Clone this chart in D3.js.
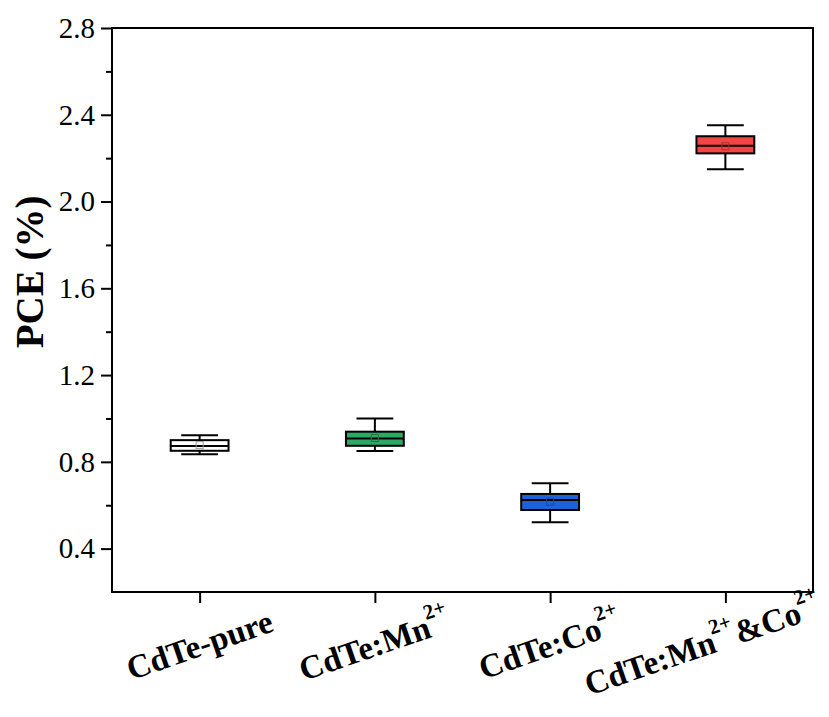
<!DOCTYPE html>
<head>
    <meta charset="utf-8">
    <style>
        body { margin: 0; background: #fff; }
        text { font-family: "Liberation Serif", "Times New Roman", serif; }
    </style>
    <script src="https://d3js.org/d3.v7.min.js"></script>
</head>
<body>
    <div id="block"></div>
    <script>

        // samples
        var categories = ["CdTe-pure", "CdTe:Mn", "CdTe:Co", "CdTe:Mn&Co"];
        var whisker_low  = [0.835, 0.850, 0.521, 2.149];
        var box_low      = [0.851, 0.874, 0.578, 2.222];
        var medians      = [0.873, 0.908, 0.624, 2.257];
        var box_high     = [0.900, 0.939, 0.652, 2.301];
        var whisker_high = [0.923, 1.000, 0.701, 2.352];
        var means        = [0.877, 0.910, 0.616, 2.255];
        var fills        = ["#ffffff", "#2fa866", "#1c62d9", "#f24545"];
        var mean_strokes = ["#999999", "#1d7a47", "#1a4aa8", "#b03030"];
        var y_ticks = [0.4, 0.8, 1.2, 1.6, 2.0, 2.4, 2.8];
        var y_minor = [0.6, 1.0, 1.4, 1.8, 2.2, 2.6];

        var w = 829,
            h = 717;
        var margin = {left: 112, right: 16, top: 28, bottom: 125};

        var svg = d3.select("#block")
                    .append("svg")
                    .attr("width", w)
                    .attr("height", h);

        var x = d3.scaleLinear()
                  .domain([0.5, 4.5])
                  .range([margin.left, w - margin.right]);

        var y = d3.scaleLinear()
                  .domain([0.2, 2.8])
                  .range([h - margin.bottom, margin.top]);

        var data = categories.map(function(c, i) {
            return {
                name: c, pos: i + 1,
                wl: whisker_low[i], q1: box_low[i], med: medians[i],
                q3: box_high[i], wh: whisker_high[i], mean: means[i],
                fill: fills[i], ms: mean_strokes[i]
            };
        });

        // y axis, major + minor ticks
        var yAxis = svg.append("g")
           .attr("transform", "translate(" + margin.left + ",0)")
           .call(d3.axisLeft(y).tickValues(y_ticks).tickSize(11).tickPadding(6)
                   .tickFormat(d3.format(".1f")));
        yAxis.select(".domain").remove();
        yAxis.selectAll("line").attr("stroke-width", 2);
        yAxis.selectAll("text").style("font-size", "29px")
             .style("font-family", "Liberation Serif").attr("fill", "#000");

        var yMinor = svg.append("g")
           .attr("transform", "translate(" + margin.left + ",0)")
           .call(d3.axisLeft(y).tickValues(y_minor).tickSize(6).tickFormat(""));
        yMinor.select(".domain").remove();
        yMinor.selectAll("line").attr("stroke-width", 2);

        // x axis
        var xAxis = svg.append("g")
           .attr("transform", "translate(0," + (h - margin.bottom) + ")")
           .call(d3.axisBottom(x).tickValues([1, 2, 3, 4]).tickSize(11).tickFormat(""));
        xAxis.select(".domain").remove();
        xAxis.selectAll("line").attr("stroke-width", 2);

        // frame
        svg.append("rect")
           .attr("x", margin.left)
           .attr("y", margin.top)
           .attr("width", w - margin.left - margin.right)
           .attr("height", h - margin.top - margin.bottom)
           .attr("fill", "none")
           .attr("stroke", "#000")
           .attr("stroke-width", 2);

        // x labels with superscripts
        var labels = [
            [["CdTe-pure", false]],
            [["CdTe:Mn", false], ["2+", true]],
            [["CdTe:Co", false], ["2+", true]],
            [["CdTe:Mn", false], ["2+", true], ["&Co", false], ["2+", true]]
        ];

        labels.forEach(function(parts, i) {
            var t = svg.append("text")
               .attr("transform", "translate(" + x(i + 1) + "," + 645 + ") rotate(-19)")
               .attr("text-anchor", "middle")
               .attr("dominant-baseline", "central")
               .style("font-size", "33px")
               .style("font-weight", "bold");
            parts.forEach(function(p, j) {
                t.append("tspan")
                 .attr("dy", p[1] ? -14 : (j > 0 ? 14 : 0))
                 .attr("dx", p[1] ? -1 : (j > 0 ? 1 : 0))
                 .style("font-size", p[1] ? "21px" : "33px")
                 .text(p[0]);
            });
            // keep inside the picture
            var b = t.node().getBoundingClientRect();
            if (b.right > w - 2) {
                t.attr("transform", "translate(" + (x(i + 1) - (b.right - w + 3)) + "," + 645 + ") rotate(-19)");
            }
        });

        // y title
        svg.append("text")
           .attr("transform", "translate(29,272) rotate(-90)")
           .attr("text-anchor", "middle")
           .attr("dominant-baseline", "central")
           .style("font-size", "39px")
           .style("font-weight", "bold")
           .text("PCE (%)");

        // boxes
        var boxW = 0.33, capW = 0.21;
        var g = svg.append("g").selectAll("g").data(data).enter().append("g");

        g.append("line")
         .attr("x1", function(d) { return x(d.pos); })
         .attr("x2", function(d) { return x(d.pos); })
         .attr("y1", function(d) { return y(d.wl); })
         .attr("y2", function(d) { return y(d.wh); })
         .attr("stroke", "#000").attr("stroke-width", 2);

        ["wl", "wh"].forEach(function(k) {
            g.append("line")
             .attr("x1", function(d) { return x(d.pos - capW / 2); })
             .attr("x2", function(d) { return x(d.pos + capW / 2); })
             .attr("y1", function(d) { return y(d[k]); })
             .attr("y2", function(d) { return y(d[k]); })
             .attr("stroke", "#000").attr("stroke-width", 2);
        });

        g.append("rect")
         .attr("x", function(d) { return x(d.pos - boxW / 2); })
         .attr("width", function(d) { return x(d.pos + boxW / 2) - x(d.pos - boxW / 2); })
         .attr("y", function(d) { return y(d.q3); })
         .attr("height", function(d) { return y(d.q1) - y(d.q3); })
         .attr("fill", function(d) { return d.fill; })
         .attr("stroke", "#000").attr("stroke-width", 2);

        g.append("line")
         .attr("x1", function(d) { return x(d.pos - boxW / 2); })
         .attr("x2", function(d) { return x(d.pos + boxW / 2); })
         .attr("y1", function(d) { return y(d.med); })
         .attr("y2", function(d) { return y(d.med); })
         .attr("stroke", "#000").attr("stroke-width", 2);

        g.append("rect")
         .attr("x", function(d) { return x(d.pos) - 3.5; })
         .attr("y", function(d) { return y(d.mean) - 3.5; })
         .attr("width", 7).attr("height", 7)
         .attr("fill", "none")
         .attr("stroke", function(d) { return d.ms; })
         .attr("stroke-width", 1);

    </script>
</body>
